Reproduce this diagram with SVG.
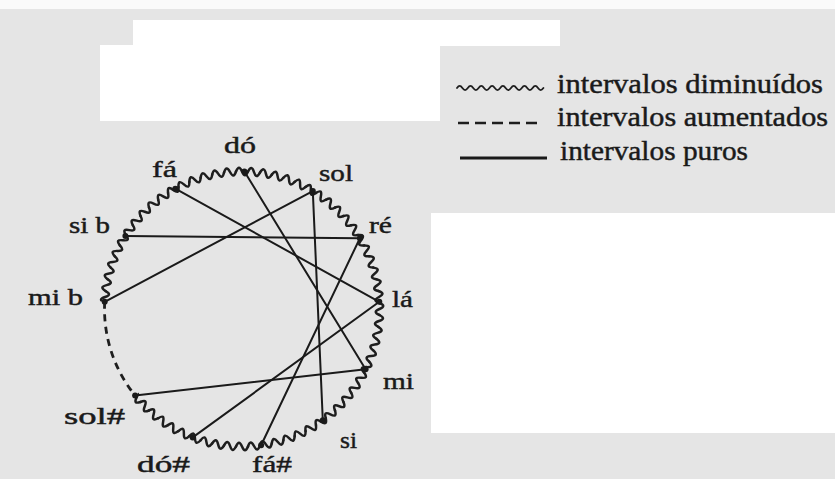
<svg xmlns="http://www.w3.org/2000/svg" width="835" height="479" viewBox="0 0 835 479">
<style>
.lbl{font-family:"Liberation Serif","Times New Roman",serif;font-size:24px;fill:#1a1a1a;stroke:#1a1a1a;stroke-width:0.45}
.leg{font-family:"Liberation Serif","Times New Roman",serif;font-size:28px;fill:#1a1a1a;stroke:#1a1a1a;stroke-width:0.45}
.wave{fill:none;stroke:#1e1e1e;stroke-width:2.5;stroke-linecap:round}
.chord{fill:none;stroke:#1a1a1a;stroke-width:2;stroke-linecap:round}
.dash{fill:none;stroke:#1e1e1e;stroke-width:2.8;stroke-dasharray:7 5.5}
.dot{fill:#1a1a1a}
</style>
<defs>
<path id="w1" class="wave" d="M236 171.5c2.16-5 3.84-5 6 0c2.16 5 3.84 5 6 0"/>
<g id="w2"><use href="#w1"/><use href="#w1" transform="rotate(5 242 309)"/></g>
<g id="w4"><use href="#w2"/><use href="#w2" transform="rotate(10 242 309)"/></g>
<g id="w8"><use href="#w4"/><use href="#w4" transform="rotate(20 242 309)"/></g>
<g id="w16"><use href="#w8"/><use href="#w8" transform="rotate(40 242 309)"/></g>
<g id="w32"><use href="#w16"/><use href="#w16" transform="rotate(80 242 309)"/></g>
<g id="w64"><use href="#w32"/><use href="#w32" transform="rotate(160 242 309)"/></g>
<mask id="gap" maskUnits="userSpaceOnUse" x="0" y="0" width="835" height="479">
<rect x="0" y="0" width="835" height="479" fill="#fff"/>
<polygon points="242,309 86.6,434.9 51.8,370.8 42.3,298.5" fill="#000"/>
</mask>
</defs>
<g id="background">
<rect x="0" y="0" width="835" height="479" fill="#e5e5e5"/>
<rect x="0" y="0" width="835" height="9" fill="#fafafa"/>
<rect x="133" y="20" width="427" height="26" fill="#fff"/>
<rect x="100" y="45" width="340" height="76" fill="#fff"/>
<rect x="431" y="213" width="404" height="220" fill="#fff"/>
</g>
<g id="connectors">
<g id="wavy-circle" mask="url(#gap)">
<use href="#w64"/>
<use href="#w8" transform="rotate(320 242 309)"/>
</g>
<path id="dashed-arc" class="dash" d="M104.7 301.8A137.5 137.5 0 0 0 135.1 395.5"/>
<line class="chord" x1="175.3" y1="188.7" x2="379.3" y2="301.8"/>
<line class="chord" x1="244.4" y1="171.5" x2="365.6" y2="369.3"/>
<line class="chord" x1="312.8" y1="191.1" x2="322.8" y2="420.2"/>
<line class="chord" x1="312.8" y1="191.1" x2="104.7" y2="301.8"/>
<line class="chord" x1="125.4" y1="236.1" x2="359.9" y2="238.2"/>
<line class="chord" x1="359.9" y1="238.2" x2="261.1" y2="445.2"/>
<line class="chord" x1="379.3" y1="301.8" x2="192.7" y2="437.4"/>
<line class="chord" x1="365.6" y1="369.3" x2="135.1" y2="395.5"/>
</g>
<g id="node-do"><circle class="dot" cx="244.4" cy="171.5" r="3"/><text class="lbl" x="224" y="153" textLength="32" lengthAdjust="spacingAndGlyphs">dó</text></g>
<g id="node-sol"><circle class="dot" cx="312.8" cy="191.1" r="3"/><text class="lbl" x="319" y="181" textLength="34" lengthAdjust="spacingAndGlyphs">sol</text></g>
<g id="node-re"><circle class="dot" cx="359.9" cy="238.2" r="3"/><text class="lbl" x="369" y="233" textLength="23" lengthAdjust="spacingAndGlyphs">ré</text></g>
<g id="node-la"><circle class="dot" cx="379.3" cy="301.8" r="3"/><text class="lbl" x="392" y="307" textLength="21" lengthAdjust="spacingAndGlyphs">lá</text></g>
<g id="node-mi"><circle class="dot" cx="365.6" cy="369.3" r="3"/><text class="lbl" x="383" y="389" textLength="31" lengthAdjust="spacingAndGlyphs">mi</text></g>
<g id="node-si"><circle class="dot" cx="322.8" cy="420.2" r="3"/><text class="lbl" x="340" y="448" textLength="17" lengthAdjust="spacingAndGlyphs">si</text></g>
<g id="node-fa-sharp"><circle class="dot" cx="261.1" cy="445.2" r="3"/><text class="lbl" x="252" y="472" textLength="40" lengthAdjust="spacingAndGlyphs">fá#</text></g>
<g id="node-do-sharp"><circle class="dot" cx="192.7" cy="437.4" r="3"/><text class="lbl" x="137" y="472" textLength="53" lengthAdjust="spacingAndGlyphs">dó#</text></g>
<g id="node-sol-sharp"><circle class="dot" cx="135.1" cy="395.5" r="3"/><text class="lbl" x="64" y="424" textLength="61" lengthAdjust="spacingAndGlyphs">sol#</text></g>
<g id="node-mi-flat"><circle class="dot" cx="104.7" cy="301.8" r="3"/><text class="lbl" x="28" y="305" textLength="55" lengthAdjust="spacingAndGlyphs">mi b</text></g>
<g id="node-si-flat"><circle class="dot" cx="125.4" cy="236.1" r="3"/><text class="lbl" x="69" y="233" textLength="41" lengthAdjust="spacingAndGlyphs">si b</text></g>
<g id="node-fa"><circle class="dot" cx="175.3" cy="188.7" r="3"/><text class="lbl" x="152" y="177" textLength="25" lengthAdjust="spacingAndGlyphs">fá</text></g>
<g id="legend">
<path class="wave" style="stroke-width:1.8" d="M457 88c1.94-2.8 3.46-2.8 5.4 0c1.94 2.8 3.46 2.8 5.4 0c1.94-2.8 3.46-2.8 5.4 0c1.94 2.8 3.46 2.8 5.4 0c1.94-2.8 3.46-2.8 5.4 0c1.94 2.8 3.46 2.8 5.4 0c1.94-2.8 3.46-2.8 5.4 0c1.94 2.8 3.46 2.8 5.4 0c1.94-2.8 3.46-2.8 5.4 0c1.94 2.8 3.46 2.8 5.4 0c1.94-2.8 3.46-2.8 5.4 0c1.94 2.8 3.46 2.8 5.4 0c1.94-2.8 3.46-2.8 5.4 0c1.94 2.8 3.46 2.8 5.4 0c1.94-2.8 3.46-2.8 5.4 0c1.94 2.8 3.46 2.8 5.4 0"/>
<text class="leg" x="557" y="93" textLength="266" lengthAdjust="spacingAndGlyphs">intervalos diminuídos</text>
<line x1="458" y1="123" x2="542" y2="123" stroke="#1e1e1e" stroke-width="2.4" stroke-dasharray="11 6"/>
<text class="leg" x="557" y="126" textLength="271" lengthAdjust="spacingAndGlyphs">intervalos aumentados</text>
<line x1="460" y1="158" x2="547" y2="158" stroke="#1a1a1a" stroke-width="2.8"/>
<text class="leg" x="560" y="160" textLength="188" lengthAdjust="spacingAndGlyphs">intervalos puros</text>
</g>
</svg>
